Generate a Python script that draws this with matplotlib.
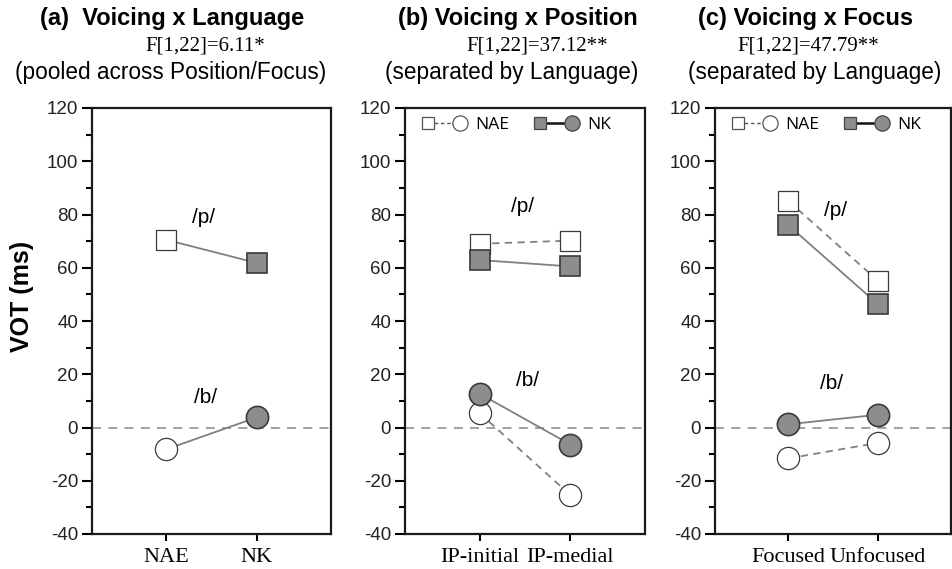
import matplotlib
matplotlib.use("Agg")
import matplotlib.pyplot as plt
from matplotlib.lines import Line2D
from matplotlib.legend_handler import HandlerBase
from matplotlib.ticker import MultipleLocator

plt.rcParams["axes.unicode_minus"] = False

# ---------------- data ----------------
lang_labels = ["NAE", "NK"]
a_p = [70.5, 61.8]          # /p/ pooled: NAE, NK
a_b = [-8.2, 3.8]           # /b/ pooled: NAE, NK

position_labels = ["IP-initial", "IP-medial"]
b_nae_p = [69.0, 70.2]
b_nk_p = [62.9, 60.5]
b_nae_b = [5.4, -25.4]
b_nk_b = [12.7, -6.4]

focus_labels = ["Focused", "Unfocused"]
c_nae_p = [85.1, 55.2]
c_nk_p = [76.0, 46.4]
c_nae_b = [-11.6, -5.8]
c_nk_b = [1.2, 4.8]

titles = ["(a)  Voicing x Language", "(b) Voicing x Position", "(c) Voicing x Focus"]
stats = ["F[1,22]=6.11*", "F[1,22]=37.12**", "F[1,22]=47.79**"]
notes = ["(pooled across Position/Focus)", "(separated by Language)", "(separated by Language)"]
y_ticks = [-40, -20, 0, 20, 40, 60, 80, 100, 120]

# ---------------- style ----------------
SANS = ["Liberation Sans", "DejaVu Sans"]
SERIF = ["Liberation Serif", "DejaVu Serif"]
FILL = "#8d8d90"
EDGE = "#3a3a3a"
LINE = "#808080"
SQ_MS = 14
CI_MS = 16

W, H = 953, 569
fig = plt.figure(figsize=(W / 100, H / 100), dpi=100)

def fx(px):
    return px / W

def fy(py):
    return 1 - py / H

top_px, bot_px = 108, 534
panels_px = [(92, 331), (405, 645), (715, 951)]
axes = []
for (l, r) in panels_px:
    ax = fig.add_axes([fx(l), fy(bot_px), (r - l) / W, (bot_px - top_px) / H])
    axes.append(ax)

x = [1, 2]

def style_axes(ax, xlabels):
    ax.set_xlim(0.18, 2.82)
    ax.set_ylim(-40, 120)
    ax.set_yticks(y_ticks)
    ax.yaxis.set_minor_locator(MultipleLocator(10))
    ax.set_xticks(x)
    ax.set_xticklabels(xlabels, fontfamily=SERIF, fontsize=16)
    for lab in ax.get_yticklabels():
        lab.set_fontfamily(SANS)
        lab.set_fontsize(13.5)
        lab.set_color("#222222")
    ax.tick_params(axis="y", which="major", direction="out", length=7, width=1.5, pad=3)
    ax.tick_params(axis="y", which="minor", direction="out", length=4, width=1.5)
    ax.tick_params(axis="x", which="major", direction="out", length=5, width=1.5, pad=5)
    for sp in ax.spines.values():
        sp.set_linewidth(1.6)
        sp.set_color("#1a1a1a")
    ax.axhline(0, color="#9a9a9a", lw=1.3, ls=(0, (5, 4)), zorder=1)

def series(ax, vals, marker, filled, ls):
    ms = SQ_MS if marker == "s" else CI_MS
    ax.plot(x, vals, color=LINE, lw=1.3, ls=ls, zorder=2)
    ax.plot(x, vals, ls="none", marker=marker, ms=ms,
            mfc=FILL if filled else "white", mec=EDGE,
            mew=1.2 if filled else 0.9, zorder=3)

# panel (a)
ax = axes[0]
style_axes(ax, lang_labels)
ax.plot(x, a_p, color=LINE, lw=1.3, zorder=2)
ax.plot(x, a_b, color=LINE, lw=1.3, zorder=2)
for i in range(2):
    filled = i == 1
    ax.plot(x[i], a_p[i], ls="none", marker="s", ms=SQ_MS,
            mfc=FILL if filled else "white", mec=EDGE, mew=1.2 if filled else 0.9, zorder=3)
    ax.plot(x[i], a_b[i], ls="none", marker="o", ms=CI_MS,
            mfc=FILL if filled else "white", mec=EDGE, mew=1.2 if filled else 0.9, zorder=3)
ax.text(1.41, 79, "/p/", fontfamily=SANS, fontsize=15, ha="center", va="center")
ax.text(1.43, 11.3, "/b/", fontfamily=SANS, fontsize=15, ha="center", va="center")

# panel (b)
ax = axes[1]
style_axes(ax, position_labels)
series(ax, b_nae_p, "s", False, (0, (4, 3)))
series(ax, b_nae_b, "o", False, (0, (4, 3)))
series(ax, b_nk_p, "s", True, "-")
series(ax, b_nk_b, "o", True, "-")
ax.text(1.47, 83, "/p/", fontfamily=SANS, fontsize=15, ha="center", va="center")
ax.text(1.53, 17.7, "/b/", fontfamily=SANS, fontsize=15, ha="center", va="center")

# panel (c)
ax = axes[2]
style_axes(ax, focus_labels)
series(ax, c_nae_p, "s", False, (0, (4, 3)))
series(ax, c_nae_b, "o", False, (0, (4, 3)))
series(ax, c_nk_p, "s", True, "-")
series(ax, c_nk_b, "o", True, "-")
ax.text(1.53, 81.4, "/p/", fontfamily=SANS, fontsize=15, ha="center", va="center")
ax.text(1.48, 16.6, "/b/", fontfamily=SANS, fontsize=15, ha="center", va="center")

# ---------------- legend with custom keys ----------------
class LangKey:
    def __init__(self, filled, ls, lc, lw):
        self.filled = filled
        self.ls = ls
        self.lc = lc
        self.lw = lw

class LangKeyHandler(HandlerBase):
    def create_artists(self, legend, orig_handle, xdescent, ydescent,
                       width, height, fontsize, trans):
        y = height / 2 - ydescent
        x0 = -xdescent + 4.5
        x1 = -xdescent + width - 5.5
        line = Line2D([x0, x1], [y, y], color=orig_handle.lc, lw=orig_handle.lw,
                      ls=orig_handle.ls)
        fc = FILL if orig_handle.filled else "white"
        ec = "#444444" if orig_handle.filled else "#555555"
        sq = Line2D([x0], [y], ls="none", marker="s", ms=9, mfc=fc, mec=ec, mew=0.9)
        ci = Line2D([x1], [y], ls="none", marker="o", ms=11, mfc=fc, mec=ec, mew=0.9)
        for art in (line, sq, ci):
            art.set_transform(trans)
        return [line, sq, ci]

for ax in axes[1:]:
    handles = [LangKey(False, (0, (2.5, 2)), "#555555", 1.0),
               LangKey(True, "-", "#111111", 1.8)]
    ax.legend(handles, ["NAE", "NK"], handler_map={LangKey: LangKeyHandler()},
              loc="upper left", bbox_to_anchor=(0.07, 0.98), ncol=2,
              frameon=False, borderpad=0, borderaxespad=0,
              handlelength=2.65, handletextpad=0.45, columnspacing=1.4,
              prop={"family": ["Open Sans", "DejaVu Sans"], "size": 12.5})

# ---------------- titles ----------------
title_cx = [172, 518, 806]
stat_cx = [205, 537, 808]
note_cx = [171, 512, 815]
for i in range(3):
    fig.text(fx(title_cx[i]), fy(18), titles[i], fontfamily=SANS, fontweight="bold",
             fontsize=17, ha="center", va="center")
    fig.text(fx(stat_cx[i]), fy(46), stats[i], fontfamily=SERIF,
             fontsize=15, ha="center", va="center")
    fig.text(fx(note_cx[i]), fy(73), notes[i], fontfamily=SANS,
             fontsize=16.3, ha="center", va="center")

fig.text(fx(22), fy(296), "VOT (ms)", fontfamily=SANS, fontweight="bold",
         fontsize=18, rotation=90, ha="center", va="center")

fig.savefig("out.png", dpi=100)
